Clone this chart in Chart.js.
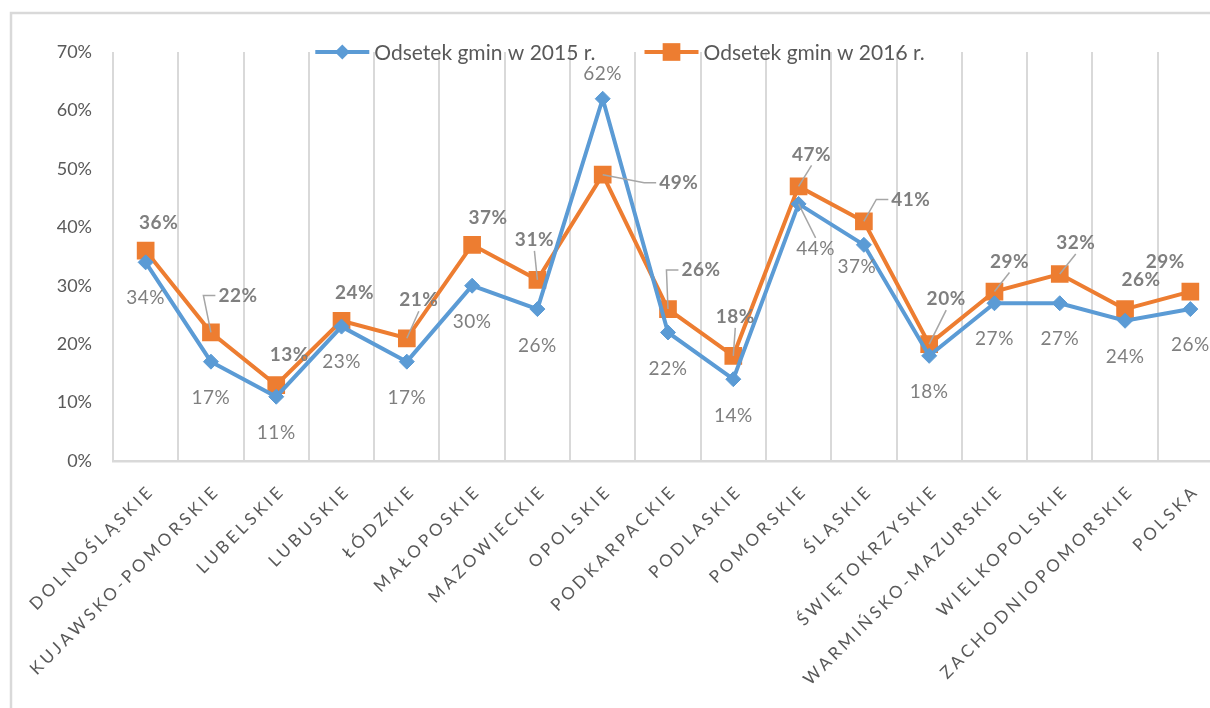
<!DOCTYPE html>
<html>
<head>
<meta charset="utf-8">
<script src="https://cdn.jsdelivr.net/npm/chart.js@4.4.0/dist/chart.umd.min.js"></script>
<style>
  html, body { margin: 0; padding: 0; background: #fff; overflow: hidden; }
  #wrap { width: 1240px; height: 708px; }
</style>
</head>
<body>
<div id="wrap"><canvas id="line-chart" width="1240" height="708"></canvas></div>
<script>
// województwa
const regions = [
  'DOLNOŚLĄSKIE', 'KUJAWSKO-POMORSKIE', 'LUBELSKIE', 'LUBUSKIE', 'ŁÓDZKIE',
  'MAŁOPOSKIE', 'MAZOWIECKIE', 'OPOLSKIE', 'PODKARPACKIE', 'PODLASKIE',
  'POMORSKIE', 'ŚLĄSKIE', 'ŚWIĘTOKRZYSKIE', 'WARMIŃSKO-MAZURSKIE', 'WIELKOPOLSKIE',
  'ZACHODNIOPOMORSKIE', 'POLSKA',
];

// odsetek gmin (%)
const share2015 = [34, 17, 11, 23, 17, 30, 26, 62, 22, 14, 44, 37, 18, 27, 27, 24, 26];
const share2016 = [36, 22, 13, 24, 21, 37, 31, 49, 26, 18, 47, 41, 20, 29, 32, 26, 29];

const seriesNames = ['Odsetek gmin w 2015 r.', 'Odsetek gmin w 2016 r.'];
const yTicks = [0, 10, 20, 30, 40, 50, 60, 70];

const blue = '#5B9BD5';
const orange = '#ED7D31';
const gridGray = '#D9D9D9';
const textGray = '#595959';
const labelGray = '#7F7F7F';
const font = 'Lato, "Open Sans", sans-serif';

// przesunięcia etykiet danych względem punktu (px)
const labelShift2015 = [
  [0, 36], [0, 36], [0, 36], [0, 35], [0, 36], [0, 36], [0, 37], [0, -25], [0, 36],
  [0, 37], [17, 45], [-7, 22], [0, 36], [0, 36], [0, 36], [0, 36], [0, 36],
];
const labelShift2016 = [
  [13, -28], [27, -37], [13, -30], [13, -28], [12, -38], [16, -27], [-3, -40], [76, 8], [33, -39],
  [2, -39], [13, -32], [47, -22], [17, -45], [15, -30], [16, -31], [16, -29], [-25, -30],
];
// etykiety z linią odniesienia
const leader2015 = [10];
const leader2016 = [1, 4, 6, 7, 8, 9, 10, 11, 12, 13, 14];

// ramka wykresu
const framePlugin = {
  id: 'frame',
  beforeDraw(chart) {
    const ctx = chart.ctx;
    ctx.save();
    ctx.strokeStyle = gridGray;
    ctx.lineWidth = 2.5;
    ctx.beginPath();
    ctx.moveTo(11, chart.height + 5);
    ctx.lineTo(11, 13);
    ctx.lineTo(chart.width + 5, 13);
    ctx.stroke();
    ctx.restore();
  },
};

// etykiety danych
const dataLabelPlugin = {
  id: 'dataLabels',
  afterDatasetsDraw(chart) {
    const ctx = chart.ctx;
    const settings = [
      { shift: labelShift2015, leaders: leader2015, weight: 'normal' },
      { shift: labelShift2016, leaders: leader2016, weight: 'bold' },
    ];
    ctx.save();
    ctx.textAlign = 'center';
    ctx.textBaseline = 'middle';
    ctx.letterSpacing = '0.5px';
    settings.forEach((s, di) => {
      const meta = chart.getDatasetMeta(di);
      const values = chart.data.datasets[di].data;
      ctx.font = `${s.weight} 19px ${font}`;
      meta.data.forEach((pt, i) => {
        const text = values[i] + '%';
        const lx = pt.x + s.shift[i][0];
        const ly = pt.y + s.shift[i][1];
        const w = ctx.measureText(text).width;
        if (s.leaders.includes(i)) {
          ctx.strokeStyle = '#A6A6A6';
          ctx.lineWidth = 1.5;
          ctx.beginPath();
          if (Math.abs(lx - pt.x) > w / 2 + 4) {
            const sx = lx - w / 2 - 3;
            ctx.moveTo(sx, ly);
            ctx.lineTo(sx - 12, ly);
          } else if (ly < pt.y) {
            ctx.moveTo(lx, ly + 11);
          } else {
            ctx.moveTo(lx, ly - 11);
          }
          ctx.lineTo(pt.x, pt.y);
          ctx.stroke();
        }
        ctx.fillStyle = labelGray;
        ctx.fillText(text, lx, ly);
      });
    });
    ctx.restore();
  },
};

// opisy osi X i legenda
const axisTextPlugin = {
  id: 'axisText',
  afterDraw(chart) {
    const ctx = chart.ctx;
    const xScale = chart.scales.x;
    const base = chart.chartArea.bottom;
    ctx.save();
    ctx.fillStyle = textGray;
    ctx.font = `17px ${font}`;
    ctx.letterSpacing = '3.5px';
    ctx.textAlign = 'right';
    ctx.textBaseline = 'middle';
    regions.forEach((name, i) => {
      const x = xScale.getPixelForValue(i);
      ctx.save();
      ctx.translate(x + 6, base + 27);
      ctx.rotate(-Math.PI / 4);
      ctx.fillText(name, 0, 0);
      ctx.restore();
    });
    ctx.restore();

    // legenda
    ctx.save();
    ctx.font = `21px ${font}`;
    ctx.textAlign = 'left';
    ctx.textBaseline = 'middle';
    const lineLen = 54;
    const gapText = 5;
    const gapItems = 49;
    const widths = seriesNames.map((n) => ctx.measureText(n).width);
    const total = 2 * (lineLen + gapText) + widths[0] + widths[1] + gapItems;
    let x = chart.width / 2 - total / 2;
    const y = chart.chartArea.top;
    const colors = [blue, orange];
    const styles = ['rectRot', 'rect'];
    const radii = [7.5, 12.5];
    seriesNames.forEach((n, i) => {
      ctx.strokeStyle = colors[i];
      ctx.lineWidth = 4;
      ctx.beginPath();
      ctx.moveTo(x, y);
      ctx.lineTo(x + lineLen, y);
      ctx.stroke();
      ctx.fillStyle = colors[i];
      Chart.helpers.drawPoint(ctx, { pointStyle: styles[i], radius: radii[i], borderWidth: 0 }, x + lineLen / 2, y);
      ctx.fillStyle = textGray;
      ctx.fillText(n, x + lineLen + gapText, y + 1);
      x += lineLen + gapText + widths[i] + gapItems;
    });
    ctx.restore();
  },
};

const chartData = {
  labels: regions,
  datasets: [
    {
      label: seriesNames[0],
      data: share2015,
      borderColor: blue,
      backgroundColor: blue,
      borderWidth: 4,
      pointStyle: 'rectRot',
      pointRadius: 7.5,
      pointBorderWidth: 1,
      pointBorderColor: blue,
      pointBackgroundColor: blue,
      tension: 0,
    },
    {
      label: seriesNames[1],
      data: share2016,
      borderColor: orange,
      backgroundColor: orange,
      borderWidth: 4,
      pointStyle: 'rect',
      pointRadius: 12.5,
      pointBorderWidth: 0,
      pointBackgroundColor: orange,
      tension: 0,
    },
  ],
};

const chartOptions = {
  responsive: false,
  animation: false,
  layout: { padding: { top: 52, right: 17, left: 0, bottom: 0 } },
  plugins: {
    legend: { display: false },
    tooltip: { enabled: false },
  },
  scales: {
    x: {
      offset: true,
      grid: { offset: true, color: gridGray, lineWidth: 2, drawTicks: false },
      border: { color: gridGray, width: 2.5 },
      ticks: { display: false },
      afterFit(scale) { scale.height = 247; },
    },
    y: {
      min: 0,
      max: 70,
      grid: { display: false },
      border: { display: false },
      afterBuildTicks(scale) { scale.ticks = yTicks.map((v) => ({ value: v })); },
      ticks: {
        padding: 13,
        color: textGray,
        font: { family: font, size: 18 },
        callback: (v) => v + '%',
      },
      afterFit(scale) { scale.width = 113; },
    },
  },
};

const ctx = document.getElementById('line-chart').getContext('2d');
new Chart(ctx, {
  type: 'line',
  data: chartData,
  options: chartOptions,
  plugins: [framePlugin, dataLabelPlugin, axisTextPlugin],
});
</script>
</body>
</html>
